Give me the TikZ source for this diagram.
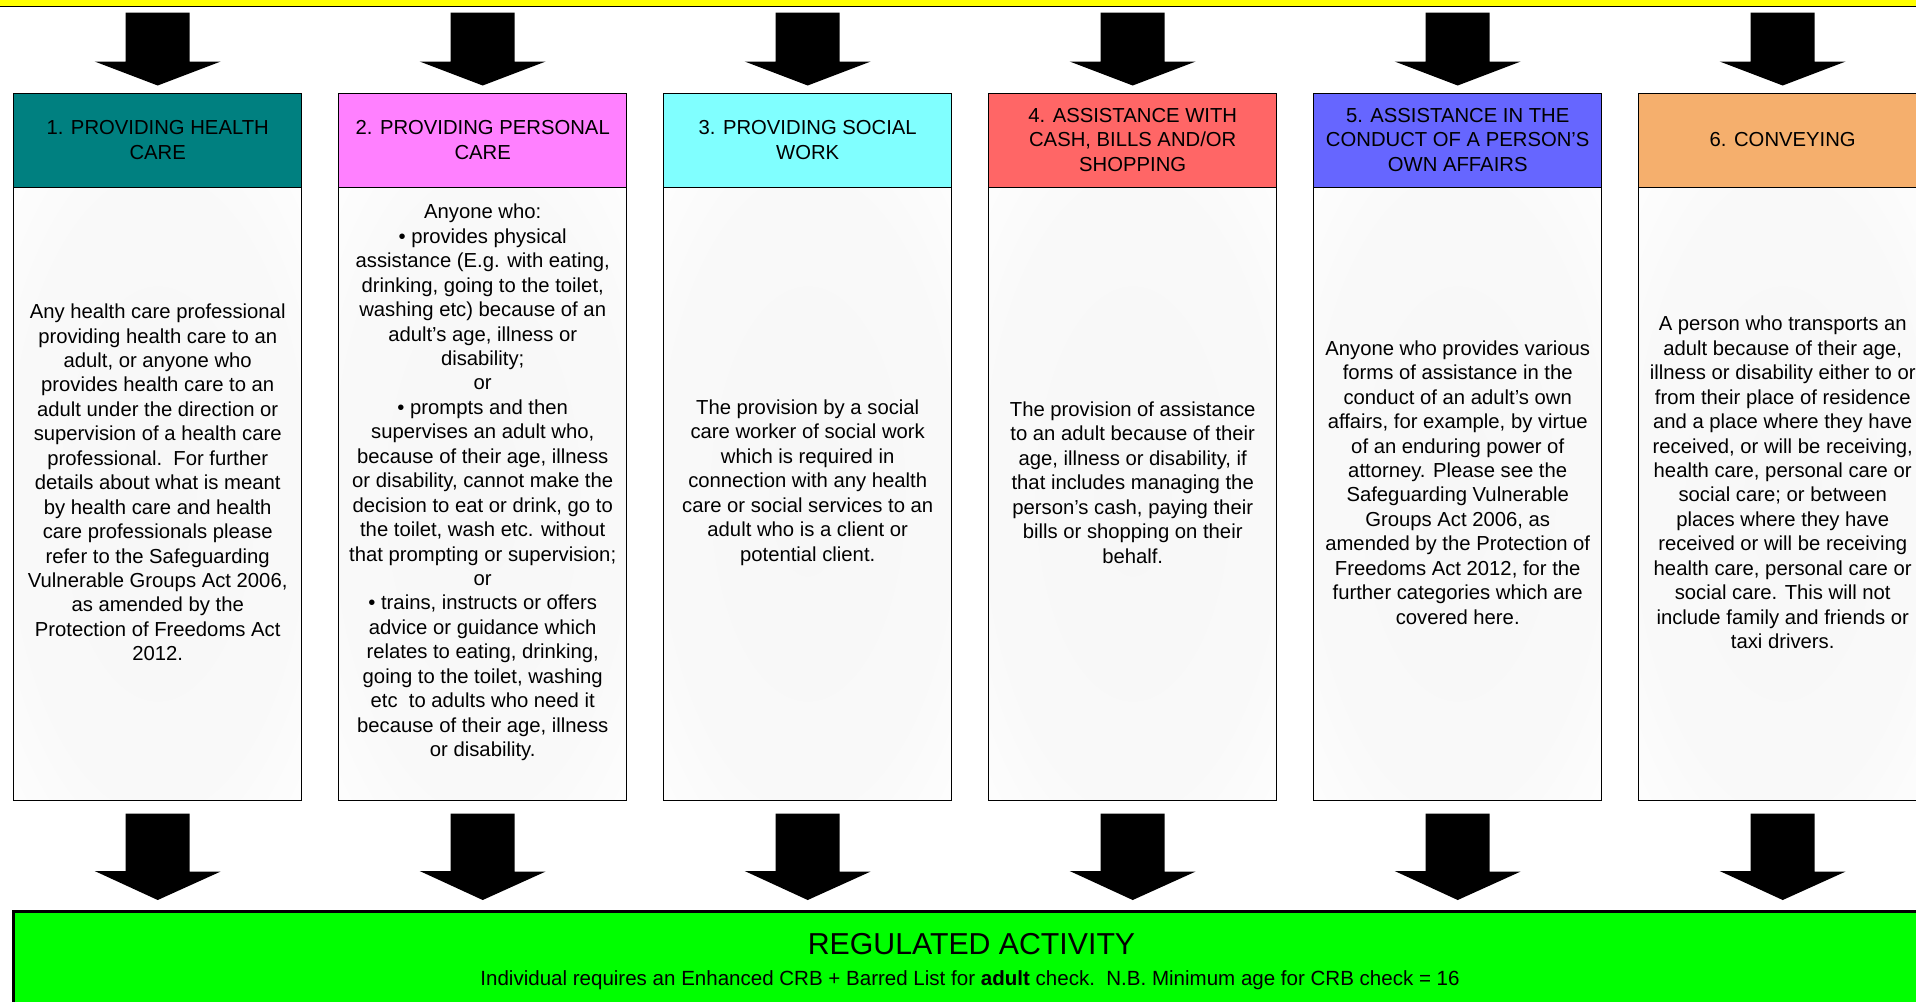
\documentclass[tikz,border=0pt]{standalone}
\usepackage{fontspec}
\setmainfont{Liberation Sans}
\usetikzlibrary{calc}
\definecolor{ra.health}{HTML}{008080}
\definecolor{ra.personal}{HTML}{FF80FF}
\definecolor{ra.social}{HTML}{80FFFF}
\definecolor{ra.cash}{HTML}{FF6666}
\definecolor{ra.affairs}{HTML}{6666FF}
\definecolor{ra.convey}{HTML}{F5AF6D}
\definecolor{ra.yellow}{HTML}{FFFF00}
\definecolor{ra.green}{HTML}{00FF00}
\definecolor{ra.glow}{gray}{0.968}
\definecolor{ra.glowb}{gray}{0.978}
\pgfdeclareradialshading{glow}{\pgfpoint{0bp}{0bp}}{color(0bp)=(ra.glow); color(26bp)=(ra.glowb); color(40bp)=(white); color(50bp)=(white)}

\begin{document}
\begin{tikzpicture}[x=0.75pt,y=-0.75pt]
  \tikzset{hdr/.style={draw=black, line width=0.75pt, minimum width=216.4pt,
      minimum height=70.5pt, inner sep=0, align=center,
      font=\fontsize{15.2}{18.33}\selectfont},
    body/.style={draw=black, line width=0.75pt, shade, shading=glow,
      minimum width=216.4pt, minimum height=459.75pt, inner sep=0},
    txt/.style={align=center, inner sep=0,
      font=\fontsize{15.2}{18.33}\selectfont},
    blk/.style={fill=black}}
  \clip (0,0) rectangle (1916,1001);

  \node[draw=black, line width=1pt, fill=ra.yellow, minimum width=1460pt,
    minimum height=20.25pt, inner sep=0] (top) at (958,-7) {};

  \node[body] (b1) at (157.7,493.5) {};
  \node[body] (b2) at (482.7,493.5) {};
  \node[body] (b3) at (807.7,493.5) {};
  \node[body] (b4) at (1132.7,493.5) {};
  \node[body] (b5) at (1457.7,493.5) {};
  \node[body] (b6) at (1782.7,493.5) {};

  \node[hdr, fill=ra.health] (h1) at (157.7,140) {1. PROVIDING HEALTH\\CARE};
  \node[hdr, fill=ra.personal] (h2) at (482.7,140) {2. PROVIDING PERSONAL\\CARE};
  \node[hdr, fill=ra.social] (h3) at (807.7,140) {3. PROVIDING SOCIAL\\WORK};
  \node[hdr, fill=ra.cash] (h4) at (1132.7,140)
    {4. ASSISTANCE WITH\\CASH, BILLS AND/OR\\SHOPPING};
  \node[hdr, fill=ra.affairs] (h5) at (1457.7,140)
    {5. ASSISTANCE IN THE\\CONDUCT OF A PERSON’S\\OWN AFFAIRS};
  \node[hdr, fill=ra.convey] (h6) at (1782.7,140) {6. CONVEYING};

  \node[txt] (t1) at (157.7,482.5) {Any health care professional\\
    providing health care to an\\adult, or anyone who\\
    provides health care to an\\adult under the direction or\\
    supervision of a health care\\professional.\ \ For further\\
    details about what is meant\\by health care and health\\
    care professionals please\\refer to the Safeguarding\\
    Vulnerable Groups Act 2006,\\as amended by the\\
    Protection of Freedoms Act\\2012.};
  \node[txt] (t2) at (482.7,482.5) {Anyone who:\\• provides physical\\
    assistance (E.g. with eating,\\drinking, going to the toilet,\\
    washing etc) because of an\\adult’s age, illness or\\disability;\\or\\
    • prompts and then\\supervises an adult who,\\
    because of their age, illness\\or disability, cannot make the\\
    decision to eat or drink, go to\\the toilet, wash etc. without\\
    that prompting or supervision;\\or\\• trains, instructs or offers\\
    advice or guidance which\\relates to eating, drinking,\\
    going to the toilet, washing\\etc\ \ to adults who need it\\
    because of their age, illness\\or disability.};
  \node[txt] (t3) at (807.7,482.5) {The provision by a social\\
    care worker of social work\\which is required in\\
    connection with any health\\care or social services to an\\
    adult who is a client or\\potential client.};
  \node[txt] (t4) at (1132.7,482.5) {The provision of assistance\\
    to an adult because of their\\age, illness or disability, if\\
    that includes managing the\\person’s cash, paying their\\
    bills or shopping on their\\behalf.};
  \node[txt] (t5) at (1457.7,482.5) {Anyone who provides various\\
    forms of assistance in the\\conduct of an adult’s own\\
    affairs, for example, by virtue\\of an enduring power of\\
    attorney. Please see the\\Safeguarding Vulnerable\\
    Groups Act 2006, as\\amended by the Protection of\\
    Freedoms Act 2012, for the\\further categories which are\\
    covered here.};
  \node[txt] (t6) at (1782.7,482.5) {A person who transports an\\
    adult because of their age,\\illness or disability either to or\\
    from their place of residence\\and a place where they have\\
    received, or will be receiving,\\health care, personal care or\\
    social care; or between\\places where they have\\
    received or will be receiving\\health care, personal care or\\
    social care. This will not\\include family and friends or\\
    taxi drivers.};

  \node[draw=black, line width=2.25pt, fill=ra.green, minimum width=1437.5pt,
    minimum height=80.25pt, inner sep=0] (reg) at (971.5,965) {};
  \node[anchor=base, inner sep=0, font=\fontsize{22.7}{27}\selectfont]
    (regtitle) at (971.5,954) {REGULATED ACTIVITY};
  \node[anchor=base, inner sep=0, font=\fontsize{15.4}{18}\selectfont]
    (regsub) at (970,985) {Individual requires an Enhanced CRB + Barred List
    for \textbf{adult} check.\ \ N.B. Minimum age for CRB check = 16};

  % block arrows into and out of each column
  \foreach \i in {1,...,6} {
    \fill[blk] ($(h\i.north)+(-32,-80)$) -- ++(64,0) -- ++(0,49) -- ++(31,0)
      -- ($(h\i.north)+(0,-7)$) -- ++(-63,-24) -- ++(31,0) -- cycle;
    \fill[blk] ($(b\i.south)+(-32,13)$) -- ++(64,0) -- ++(0,58) -- ++(31,0)
      -- ($(b\i.south |- reg.north)+(0,-10)$) -- ++(-63,-29) -- ++(31,0)
      -- cycle;
  }
\end{tikzpicture}
\end{document}
